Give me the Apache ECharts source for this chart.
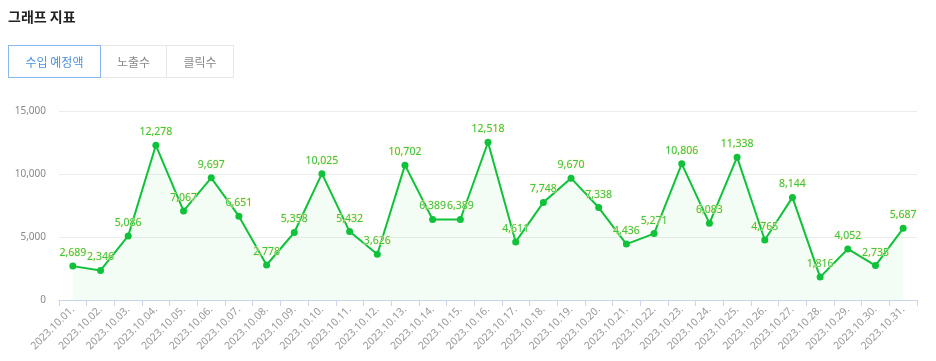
<!DOCTYPE html>
<html><head><meta charset="utf-8">
<script src="https://cdn.jsdelivr.net/npm/echarts@6/dist/echarts.min.js"></script>
<style>
html,body{margin:0;padding:0;background:#fff;width:936px;height:361px;overflow:hidden;font-family:"Noto Sans CJK KR","Noto Sans",sans-serif;}
#title{position:absolute;left:8px;top:6px;font-size:14px;font-weight:bold;color:#222;line-height:20px;}
#tabs{position:absolute;left:8px;top:45px;height:33px;display:flex;}
.tab{box-sizing:border-box;height:33px;line-height:31px;text-align:center;font-size:12px;color:#888;border:1px solid #e8e8e8;margin-left:-1px;}
.tab.on{color:#4a90e2;border:1px solid #8ab8ef;position:relative;z-index:1;margin-left:0;}
#chart{position:absolute;left:0;top:0;width:936px;height:361px;}
</style></head>
<body>
<div id="chart"></div>
<div id="title">그래프 지표</div>
<div id="tabs">
<div class="tab on" style="width:93px">수입 예정액</div>
<div class="tab" style="width:67px">노출수</div>
<div class="tab" style="width:68px">클릭수</div>
</div>
<script>
const categories = ["2023.10.01.","2023.10.02.","2023.10.03.","2023.10.04.","2023.10.05.","2023.10.06.","2023.10.07.","2023.10.08.","2023.10.09.","2023.10.10.","2023.10.11.","2023.10.12.","2023.10.13.","2023.10.14.","2023.10.15.","2023.10.16.","2023.10.17.","2023.10.18.","2023.10.19.","2023.10.20.","2023.10.21.","2023.10.22.","2023.10.23.","2023.10.24.","2023.10.25.","2023.10.26.","2023.10.27.","2023.10.28.","2023.10.29.","2023.10.30.","2023.10.31."];
const revenue = [2689,2346,5086,12278,7067,9697,6651,2778,5358,10025,5432,3626,10702,6389,6389,12518,4611,7748,9670,7338,4436,5271,10806,6083,11338,4765,8144,1816,4052,2735,5687];

const chart = echarts.init(document.getElementById('chart'));
chart.setOption({
  animation:false,
  grid:{left:59,right:19,top:111,bottom:61,containLabel:false},
  xAxis:{type:'category',data:categories,boundaryGap:true,
    axisLine:{lineStyle:{color:'#ccd6eb'}},
    axisTick:{show:true,lineStyle:{color:'#ccd6eb'},length:6},
    axisLabel:{rotate:45,color:'#999',fontSize:10.5,interval:0,margin:8,fontFamily:'"Noto Sans",sans-serif'}},
  yAxis:{type:'value',min:0,max:15000,interval:5000,
    axisLine:{show:false},axisTick:{show:false},
    splitLine:{lineStyle:{color:'#ececec'}},
    axisLabel:{color:'#888',fontSize:10,margin:13,fontFamily:'"Noto Sans",sans-serif',
      formatter:v=>v.toLocaleString('en-US')}},
  series:[{type:'line',data:revenue,
    symbol:'circle',symbolSize:7,
    lineStyle:{color:'#10c23a',width:2},
    itemStyle:{color:'#10c23a'},
    areaStyle:{color:'rgba(16,194,58,0.07)'},
    label:{show:true,position:'top',color:'#38c44f',fontSize:10.5,distance:4,
      fontFamily:'"Noto Sans",sans-serif',
      textBorderColor:'rgba(255,240,180,0.9)',textBorderWidth:1,
      formatter:p=>p.value.toLocaleString('en-US')}
  }]
});
</script>
</body></html>
